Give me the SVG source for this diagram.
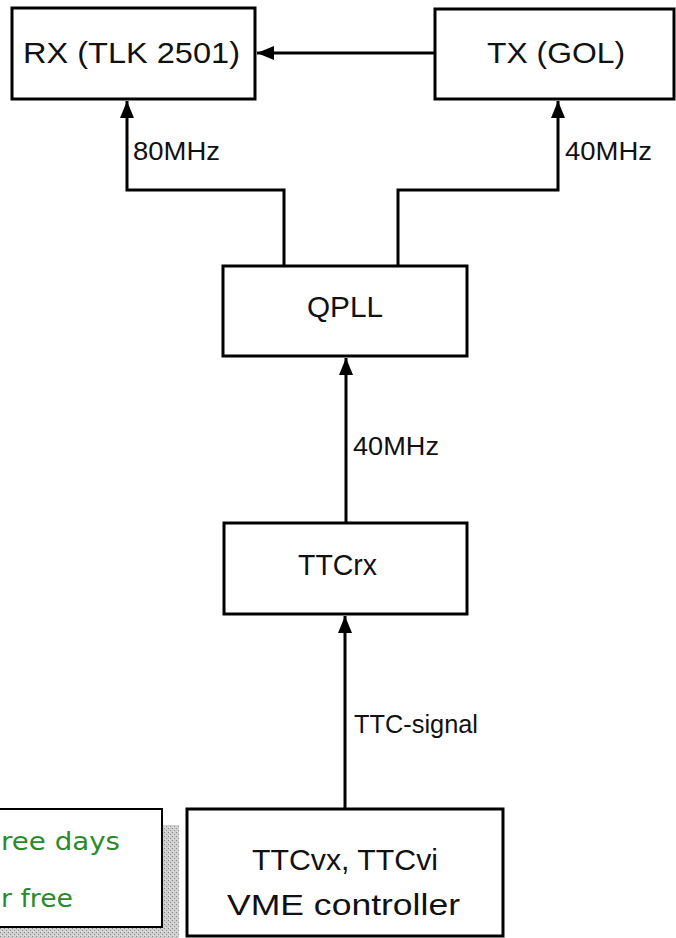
<svg xmlns="http://www.w3.org/2000/svg" width="676" height="938" viewBox="0 0 676 938">
<style>
.box{fill:#fff;stroke:#000;stroke-width:3}
.lbl{font-family:"Liberation Sans",Arial,sans-serif;fill:#111}
.big{font-size:29px}
.sm{font-size:26px}
.wire{fill:none;stroke:#000;stroke-width:3}
.note{font-family:"DejaVu Sans","Liberation Sans",sans-serif;font-size:24px;fill:#2b8a2b}
</style>
<defs>
<marker id="ah" markerUnits="userSpaceOnUse" markerWidth="18" markerHeight="14" refX="17" refY="7" orient="auto">
<path d="M0,0 L17,7 L0,14 Z" fill="#000"/>
</marker>
<pattern id="stip" width="4" height="4" patternUnits="userSpaceOnUse">
<rect width="4" height="4" fill="#cfcfcf"/>
<rect x="0" y="0" width="1" height="1" fill="#8a8a8a"/>
<rect x="2" y="2" width="1" height="1" fill="#9a9a9a"/>
<rect x="1" y="3" width="1" height="1" fill="#e8e8e8"/>
</pattern>
</defs>
<g id="connectors">
<path class="wire" d="M435,53 H257" marker-end="url(#ah)"/>
<path class="wire" d="M284,266 V190 H127 V101" marker-end="url(#ah)"/>
<path class="wire" d="M398,266 V190 H558 V101" marker-end="url(#ah)"/>
<path class="wire" d="M346,523 V358" marker-end="url(#ah)"/>
<path class="wire" d="M345,809 V616" marker-end="url(#ah)"/>
<text class="lbl sm" x="133" y="160" textLength="87" lengthAdjust="spacingAndGlyphs">80MHz</text>
<text class="lbl sm" x="565" y="160" textLength="87" lengthAdjust="spacingAndGlyphs">40MHz</text>
<text class="lbl sm" x="353" y="455" textLength="86" lengthAdjust="spacingAndGlyphs">40MHz</text>
<text class="lbl sm" x="354" y="733" textLength="124" lengthAdjust="spacingAndGlyphs">TTC-signal</text>
</g>
<g id="rx">
<rect class="box" x="12" y="8" width="243" height="91"/>
<text class="lbl big" x="23" y="63" textLength="217" lengthAdjust="spacingAndGlyphs">RX (TLK 2501)</text>
</g>
<g id="tx">
<rect class="box" x="435" y="9" width="239" height="90"/>
<text class="lbl big" x="487" y="63" textLength="138" lengthAdjust="spacingAndGlyphs">TX (GOL)</text>
</g>
<g id="qpll">
<rect class="box" x="223" y="266" width="244" height="90"/>
<text class="lbl big" x="307" y="317" textLength="76" lengthAdjust="spacingAndGlyphs">QPLL</text>
</g>
<g id="ttcrx">
<rect class="box" x="224" y="523" width="243" height="91"/>
<text class="lbl big" x="298" y="575" textLength="79" lengthAdjust="spacingAndGlyphs">TTCrx</text>
</g>
<g id="vme">
<rect class="box" x="187" y="809" width="316" height="127"/>
<text class="lbl big" x="252" y="870" textLength="186" lengthAdjust="spacingAndGlyphs">TTCvx, TTCvi</text>
<text class="lbl big" x="227" y="915" textLength="233" lengthAdjust="spacingAndGlyphs">VME controller</text>
</g>
<g id="note">
<rect x="163" y="825" width="16" height="113" fill="url(#stip)"/>
<rect x="0" y="928" width="179" height="10" fill="url(#stip)"/>
<rect x="-5" y="809" width="167" height="118" fill="#fff" stroke="#000" stroke-width="2"/>
<text class="note" x="1" y="850" textLength="119" lengthAdjust="spacingAndGlyphs">ree days</text>
<text class="note" x="1" y="907" textLength="72" lengthAdjust="spacingAndGlyphs">r free</text>
</g>
</svg>
